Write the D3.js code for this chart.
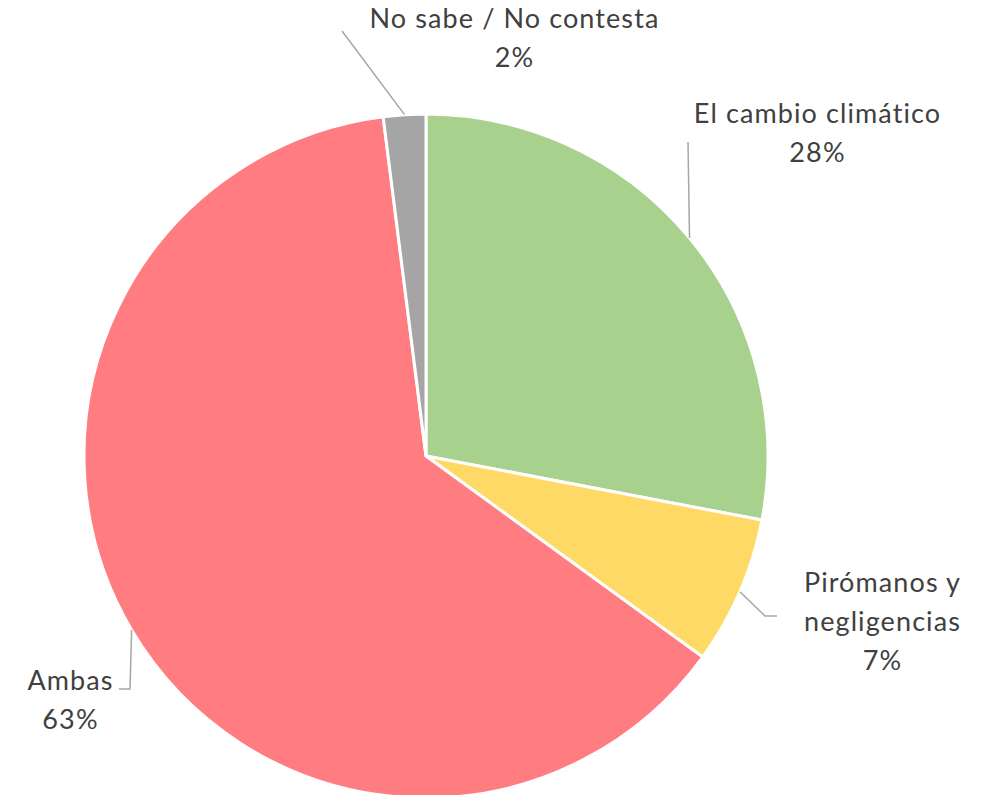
<!DOCTYPE html>
<html><head><meta charset="utf-8">
<script src="https://cdn.jsdelivr.net/npm/d3@7"></script>
<style>html,body{margin:0;padding:0;background:#fff;}</style>
</head><body>
<svg id="chart" width="992" height="795"></svg>
<script>
const categories = ["El cambio climático", "Pirómanos y negligencias", "Ambas", "No sabe / No contesta"];
const values = [28, 7, 63, 2];
const labelLines = [["El cambio climático"], ["Pirómanos y", "negligencias"], ["Ambas"], ["No sabe / No contesta"]];
const colors = ["#A9D18E", "#FFD966", "#FF7C80", "#A5A5A5"];

// layout (label anchor positions, leader-line elbows)
const cx = 426, cy = 456, R = 342;
const labelPos = [
  {x: 817, y: 123, elbow: null, end: [688, 142]},
  {x: 882, y: 592, elbow: [765, 616], end: [777, 616]},
  {x: 70,  y: 690, elbow: [130, 689], end: [119, 689]},
  {x: 514, y: 28,  elbow: null, end: [342, 31]}
];
const lineH = 39;

const svg = d3.select("#chart");
const g = svg.append("g").attr("transform", `translate(${cx},${cy})`);
const pie = d3.pie().sort(null).value(d => d)(values);
const arc = d3.arc().innerRadius(0).outerRadius(R);

g.selectAll("path.slice").data(pie).enter().append("path")
  .attr("class", "slice")
  .attr("d", arc)
  .attr("fill", (d, i) => colors[i])
  .attr("stroke", "#fff").attr("stroke-width", 3).attr("stroke-linejoin", "round");

// leader lines
pie.forEach((d, i) => {
  const a = (d.startAngle + d.endAngle) / 2;
  const sx = cx + R * Math.sin(a), sy = cy - R * Math.cos(a);
  const lp = labelPos[i];
  const pts = [[sx, sy]];
  if (lp.elbow) pts.push(lp.elbow);
  pts.push(lp.end);
  svg.append("path")
    .attr("d", d3.line()(pts))
    .attr("fill", "none").attr("stroke", "#A6A6A6").attr("stroke-width", 1.5);
});

// labels
pie.forEach((d, i) => {
  const lp = labelPos[i];
  const lines = labelLines[i].concat([d3.format(".0%")(values[i] / d3.sum(values))]);
  const t = svg.append("text")
    .attr("text-anchor", "middle")
    .attr("font-family", "Lato, sans-serif")
    .attr("font-size", 27)
    .attr("letter-spacing", 1.1)
    .attr("fill", "#404040");
  lines.forEach((s, j) => {
    t.append("tspan").attr("x", lp.x + 0.5).attr("y", lp.y + j * lineH).text(s);
  });
});
</script>
</body></html>
